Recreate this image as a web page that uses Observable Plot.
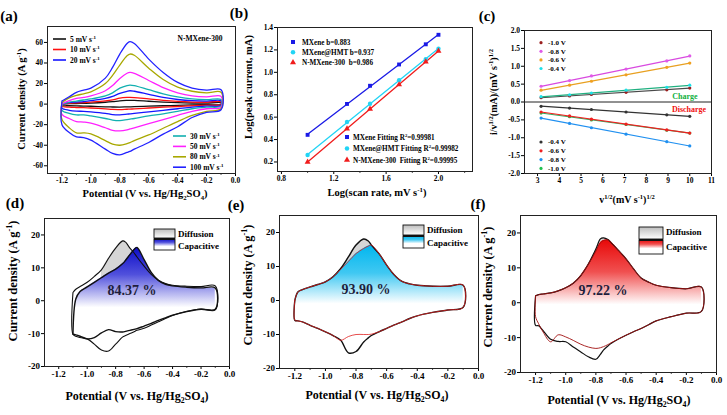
<!DOCTYPE html>
<html><head><meta charset="utf-8">
<script src="https://cdn.jsdelivr.net/npm/d3@7"></script>
<script src="https://cdn.jsdelivr.net/npm/@observablehq/plot@0.6"></script>
<style>
body{margin:0;background:#fff;}
#fig{position:relative;width:727px;height:415px;overflow:hidden;background:#fff;}
</style></head><body><div id="fig"></div>
<script>
// ================= DATA =================
// (a) CV curves of N-MXene-300 at several scan rates
const aPotential = [-1.2, -1.15, -1.1, -1.05, -1.0, -0.9, -0.85, -0.8, -0.75, -0.73, -0.7, -0.6, -0.5, -0.4, -0.3, -0.2, -0.1];
const aRates = ["5", "10", "20", "30", "50", "80", "100"];
const aUp5   = [0, 0.4, 0.6, 0.8, 1.0, 1.8, 2.4, 3.2, 3.6, 3.7, 3.6, 2.8, 2.0, 1.4, 1.1, 1.0, 1.2];
const aLo5   = [-1.2, -1.6, -1.8, -1.9, -2.1, -2.6, -2.8, -2.9, -2.7, -2.65, -2.5, -2.0, -1.6, -1.2, -0.8, -0.5, -0.3];
const aUp10  = [0, 0.8, 1.2, 1.5, 2.0, 3.2, 4.2, 5.8, 6.5, 6.6, 6.4, 5.0, 3.6, 2.6, 2.0, 1.8, 2.2];
const aLo10  = [-2.0, -3.0, -3.3, -3.5, -3.8, -4.7, -5.2, -5.3, -5.0, -4.9, -4.6, -3.8, -3.0, -2.3, -1.6, -1.0, -0.6];
const aUp20  = [0, 1.5, 2.0, 2.5, 3.3, 5.5, 7.5, 10.5, 12.5, 13.0, 12.5, 9.5, 6.5, 4.5, 3.3, 3.0, 3.2];
const aLo20  = [-4.0, -6.0, -6.8, -7.0, -7.5, -9.0, -10.2, -10.5, -9.8, -9.5, -9.0, -7.5, -6.0, -4.5, -3.0, -2.0, -1.3];
const aUp30  = [0, 2.0, 3.0, 4.0, 5.0, 8.0, 11.0, 15.5, 18.0, 18.5, 18.0, 14.0, 10.0, 7.0, 5.0, 4.3, 4.5];
const aLo30  = [-6.0, -9.0, -10.5, -10.5, -11.5, -14.0, -15.5, -16.0, -15.0, -14.6, -14.0, -11.5, -9.5, -7.0, -4.5, -3.0, -2.0];
const aUp50  = [0.5, 3.5, 5.5, 6.5, 8.0, 13.0, 18.0, 25.0, 30.0, 30.8, 30.0, 23.0, 16.0, 11.0, 8.0, 7.0, 7.5];
const aLo50  = [-10.0, -14.0, -17.0, -17.5, -18.5, -23.0, -25.5, -26.0, -25.0, -24.2, -23.0, -19.0, -15.0, -11.0, -7.0, -4.5, -3.0];
const aUp80  = [1.5, 6.0, 8.5, 10.0, 12.0, 20.0, 28.0, 38.0, 47.0, 48.7, 47.5, 35.0, 24.0, 16.5, 12.5, 11.0, 11.5];
const aLo80  = [-15.0, -23.0, -28.0, -28.0, -29.0, -35.5, -39.0, -40.0, -38.5, -37.5, -35.5, -30.0, -23.5, -17.0, -11.0, -7.0, -4.5];
const aUp100 = [3.0, 7.1, 11.4, 13.6, 15.6, 25.3, 35.7, 48.7, 59.0, 60.7, 59.0, 43.8, 30.8, 21.1, 15.6, 13.6, 14.0];
const aLo100 = [-20.1, -27.6, -31.8, -32.5, -35.0, -43.8, -48.0, -49.4, -47.0, -46.0, -43.8, -37.3, -29.2, -22.0, -13.0, -8.1, -5.5];
const aXTicks = [-1.2, -1.0, -0.8, -0.6, -0.4, -0.2, 0.0];
const aYTicks = [-60, -40, -20, 0, 20, 40, 60];

// (b) log(peak current) vs log(scan rate)
const bLogRate = [1.0, 1.301, 1.477, 1.699, 1.903, 2.0];
const bSeries = ["MXene", "MXene@HMT", "N-MXene-300"];
const bMXene = [0.442, 0.718, 0.88, 1.07, 1.25, 1.335];
const bHMT   = [0.262, 0.557, 0.72, 0.93, 1.118, 1.21];
const bNMX   = [0.200, 0.497, 0.673, 0.89, 1.094, 1.19];
const bLegendTop = ["MXene b=0.883", "MXene@HMT b=0.937", "N-MXene-300  b=0.986"];
const bLegendFit = ["MXene Fitting R", "MXene@HMT Fitting R", "N-MXene-300  Fitting R"];
const bR2 = ["=0.99981", "=0.99982", "=0.99995"];
const bXTicks = [0.8, 1.2, 1.6, 2.0];
const bYTicks = [0.2, 0.4, 0.6, 0.8, 1.0, 1.2, 1.4];

// (c) i/v^1/2 vs v^1/2
const cSqrtRate = [3.162, 4.472, 5.477, 7.071, 8.944, 10.0];
const cChargeNames = ["-1.0 V", "-0.8 V", "-0.6 V", "-0.4 V"];
const cCharge10 = [0.12, 0.17, 0.21, 0.27, 0.34, 0.39];
const cCharge08 = [0.44, 0.60, 0.73, 0.92, 1.15, 1.29];
const cCharge06 = [0.33, 0.47, 0.58, 0.76, 0.97, 1.09];
const cCharge04 = [0.15, 0.20, 0.25, 0.33, 0.41, 0.47];
const cDischargeNames = ["-0.4 V", "-0.6 V", "-0.8 V", "-1.0 V"];
const cDis04 = [-0.12, -0.17, -0.21, -0.28, -0.36, -0.40];
const cDis06 = [-0.28, -0.39, -0.48, -0.62, -0.78, -0.87];
const cDis08 = [-0.45, -0.60, -0.72, -0.90, -1.11, -1.23];
const cDis10 = [-0.31, -0.41, -0.50, -0.63, -0.79, -0.87];
const cXTicks = [3, 4, 5, 6, 7, 8, 9, 10, 11];
const cYTicks = [-2.0, -1.5, -1.0, -0.5, 0.0, 0.5, 1.0, 1.5, 2.0];

// (d) MXene: total CV and capacitive contribution
const dPotential = [-1.1, -1.08, -1.05, -1.0, -0.95, -0.9, -0.85, -0.8, -0.75, -0.73, -0.7, -0.67, -0.65, -0.6, -0.55, -0.5, -0.45, -0.4, -0.3, -0.2, -0.1];
const dTotalUp = [2.5, 3.5, 4.3, 5.6, 7.4, 9.4, 12.9, 16.0, 18.2, 17.8, 16.0, 14.5, 13.3, 10.5, 8.0, 6.2, 5.2, 4.7, 4.4, 4.3, 4.5];
const dTotalLo = [-10.2, -10.8, -11.2, -11.6, -13.2, -15.0, -15.3, -13.2, -11.0, -10.6, -10.0, -9.4, -9.0, -8.4, -7.4, -6.4, -5.4, -4.5, -3.2, -2.5, -2.8];
const dCapUp = [-10.2, 0.5, 2.8, 4.2, 5.6, 7.0, 8.4, 9.6, 11.3, 12.3, 14.0, 15.6, 16.2, 12.5, 8.6, 6.2, 5.0, 4.5, 4.1, 3.9, 3.9];
const dCapLo = [-10.2, -10.4, -10.8, -11.6, -11.2, -9.8, -8.8, -9.4, -9.5, -9.3, -9.0, -8.7, -8.5, -7.7, -6.9, -6.0, -5.2, -4.4, -3.3, -2.6, -2.6];
const dPercent = "84.37 %";

// (e) MXene@HMT
const ePotential = [-1.2, -1.18, -1.15, -1.1, -1.05, -1.0, -0.95, -0.9, -0.85, -0.8, -0.75, -0.72, -0.7, -0.65, -0.6, -0.55, -0.5, -0.45, -0.4, -0.3, -0.2, -0.1];
const eTotalUp = [0, 2.5, 3.2, 4.0, 4.7, 5.5, 7.0, 9.4, 12.8, 16.3, 18.1, 17.5, 16.3, 13.8, 10.4, 7.5, 5.6, 4.9, 4.5, 4.2, 4.2, 4.5];
const eTotalLo = [-5.8, -6.0, -6.3, -7.3, -8.2, -9.2, -10.3, -11.7, -15.4, -15.0, -12.2, -11.0, -10.3, -9.2, -8.2, -7.2, -6.3, -5.3, -4.5, -3.5, -2.8, -2.0];
const eCapUp = [0, 2.5, 3.2, 4.0, 4.7, 5.5, 7.0, 9.2, 11.5, 13.8, 15.3, 16.0, 16.3, 13.8, 10.4, 7.5, 5.6, 4.9, 4.5, 4.2, 4.2, 4.5];
const eCapLo = [-5.8, -6.0, -6.3, -7.3, -8.2, -9.2, -10.3, -11.7, -10.6, -10.0, -10.0, -10.0, -9.9, -9.2, -8.2, -7.2, -6.3, -5.3, -4.5, -3.5, -2.8, -2.0];
const ePercent = "93.90 %";

// (f) N-MXene-300
const fPotential = [-1.2, -1.18, -1.15, -1.1, -1.05, -1.0, -0.95, -0.9, -0.85, -0.8, -0.77, -0.75, -0.72, -0.7, -0.65, -0.6, -0.55, -0.5, -0.45, -0.4, -0.3, -0.2, -0.1];
const fTotalUp = [2.0, 2.3, 2.5, 2.8, 3.4, 4.3, 5.6, 7.8, 11.1, 15.4, 18.3, 18.6, 18.1, 17.3, 15.0, 12.6, 9.7, 7.1, 5.9, 5.0, 4.3, 4.0, 4.5];
const fTotalLo = [-6.5, -6.6, -8.0, -10.5, -11.1, -11.2, -12.7, -14.1, -15.5, -16.2, -14.8, -13.6, -12.4, -11.7, -10.4, -9.3, -8.3, -7.4, -6.3, -5.2, -4.0, -3.0, -2.5];
const fCapUp = [2.0, 2.3, 2.5, 2.8, 3.4, 4.3, 5.6, 7.8, 11.0, 14.8, 17.2, 17.8, 18.0, 17.4, 15.0, 12.6, 9.7, 7.1, 5.9, 5.0, 4.3, 4.0, 4.5];
const fCapLo = [-4.0, -6.0, -8.4, -11.2, -9.2, -9.8, -10.8, -11.9, -12.7, -13.1, -12.9, -12.6, -12.0, -11.5, -10.4, -9.3, -8.3, -7.4, -6.3, -5.2, -4.0, -3.0, -2.5];
const fPercent = "97.22 %";

const cvXTicks = [-1.2, -1.0, -0.8, -0.6, -0.4, -0.2, 0.0];
const cvYTicks = [-20, -10, 0, 10, 20];
const cvMinor = [-1.1, -0.9, -0.7, -0.5, -0.3, -0.1];

// ================= HELPERS =================
const W = 727, H = 415;
const fig = document.getElementById("fig");
const SERIF = "'Liberation Serif', 'Times New Roman', serif";
const f1 = d => d.toFixed(1), f0 = d => String(d);
function box(x0, y0, x1, y1) { return {width: W, height: H, marginLeft: x0, marginTop: y0, marginRight: W - x1, marginBottom: H - y1}; }
function st(fs) { return {background: "transparent", fontFamily: SERIF, fontSize: fs + "px", fontWeight: "bold", color: "#000", overflow: "visible"}; }
function ax(domain, ticks, fmt) { return {domain, ticks, tickFormat: fmt, tickSize: 3, tickPadding: 1.5, label: null}; }
function minorX(vals, fh) { return Plot.ruleX(vals, {insetTop: fh, insetBottom: -2, stroke: "#222", strokeWidth: 0.8}); }
function add(svg) { svg.style.position = "absolute"; svg.style.left = "0px"; svg.style.top = "0px"; fig.appendChild(svg); return d3.select(svg); }
function rich(sel, x, y, parts, o = {}) {
  const size = o.size || 11;
  const t = sel.append("text").attr("x", x).attr("y", y)
    .attr("font-family", SERIF).attr("font-weight", "bold")
    .attr("font-size", size).attr("text-anchor", o.anchor || "middle").attr("fill", o.fill || "#000");
  if (o.rotate) t.attr("transform", `rotate(${o.rotate} ${x} ${y})`);
  let cur = 0;
  for (const p of parts) {
    const [s, k] = typeof p === "string" ? [p, ""] : p;
    const shift = k === "sup" ? -0.38 * size : k === "sub" ? 0.25 * size : 0;
    t.append("tspan").attr("dy", shift - cur).attr("font-size", k ? size * 0.65 : size).text(s);
    cur = shift;
  }
  return t;
}
function grad(sel, id, stops) {
  let defs = sel.select("defs");
  if (defs.empty()) defs = sel.insert("defs", ":first-child");
  const g = defs.append("linearGradient").attr("id", id).attr("x1", 0).attr("y1", 0).attr("x2", 0).attr("y2", 1);
  stops.forEach(([o, c]) => g.append("stop").attr("offset", o).attr("stop-color", c));
}
function loopRows(xs, up, lo, key) {
  const rows = [];
  xs.forEach((x, i) => rows.push({k: key, x, y: up[i]}));
  for (let i = xs.length - 1; i >= 0; i--) rows.push({k: key, x: xs[i], y: lo[i]});
  rows.push({k: key, x: xs[0], y: up[0]});
  return rows;
}
function letter(sel, x, y, s) { sel.append("text").attr("x", x).attr("y", y).attr("font-family", SERIF).attr("font-weight", "bold").attr("font-size", 15).text(s); }
const potLabel = ["Potential (V vs. Hg/Hg", ["2", "sub"], "SO", ["4", "sub"], ")"];
const cdLabel = ["Current density (A g", ["-1", "sup"], ")"];

// ================= (a) =================
{
  const ups = [aUp5, aUp10, aUp20, aUp30, aUp50, aUp80, aUp100];
  const los = [aLo5, aLo10, aLo20, aLo30, aLo50, aLo80, aLo100];
  const aColors = ["#111111", "#ff1010", "#1515ff", "#12b0b0", "#ff20ff", "#a8a800", "#2222ff"];
  const rows = aRates.flatMap((r, k) => loopRows(aPotential, ups[k], los[k], r));
  const p = Plot.plot({
    ...box(47, 26, 235, 173), style: st(7.5),
    x: ax([-1.3, 0], aXTicks, f1), y: ax([-67.5, 75.5], aYTicks, f0),
    color: {domain: aRates, range: aColors},
    marks: [
      Plot.line(rows, {x: "x", y: "y", z: "k", stroke: "k", strokeWidth: 1.3, curve: "catmull-rom"}),
      minorX(cvMinor, 147),
      Plot.frame({stroke: "#222"})
    ]
  });
  const A = add(p);
  aRates.forEach((r, k) => {
    const top = k < 3;
    const y = top ? 39 + k * 10.5 : 136 + (k - 3) * 10.4;
    const x = top ? 53 : 173;
    A.append("line").attr("x1", x).attr("x2", x + 13).attr("y1", y).attr("y2", y).attr("stroke", aColors[k]).attr("stroke-width", 1.6);
    rich(A, x + 17, y + 2.6, [r + " mV s", ["-1", "sup"]], {size: 7.5, anchor: "start"});
  });
  rich(A, 200, 41, ["N-MXene-300"], {size: 7.5});
  rich(A, 145, 197, potLabel, {size: 10.5});
  rich(A, 25, 99, cdLabel, {size: 10.5, rotate: -90});
  letter(A, 9, 21, "(a)");
}

// ================= (b) =================
{
  const bColors = ["#1a1ae6", "#22d4f5", "#f01c1c"];
  const vals = [bMXene, bHMT, bNMX];
  const rows = bSeries.flatMap((s, k) => bLogRate.map((x, i) => ({s, x, y: vals[k][i]})));
  const p = Plot.plot({
    ...box(277, 27, 472, 171), style: st(7.5),
    x: ax([0.77, 2.26], bXTicks, f1), y: ax([0.115, 1.4], bYTicks, f1),
    color: {domain: bSeries, range: bColors},
    symbol: {domain: bSeries, range: ["square", "circle", "triangle"]},
    marks: [
      Plot.linearRegressionY(rows, {x: "x", y: "y", stroke: "s", ci: 0, strokeWidth: 1.3}),
      Plot.dot(rows, {x: "x", y: "y", fill: "s", symbol: "s", r: 2.2}),
      minorX([1.0, 1.4, 1.8, 2.2], 144),
      Plot.frame({stroke: "#222"})
    ]
  });
  const B = add(p);
  const syms = [d3.symbolSquare, d3.symbolCircle, d3.symbolTriangle];
  bSeries.forEach((s, k) => {
    const y = 42 + k * 10.2;
    B.append("path").attr("transform", `translate(293,${y})`).attr("d", d3.symbol(syms[k], 16)()).attr("fill", bColors[k]);
    rich(B, 302, y + 2.6, [bLegendTop[k]], {size: 7.2, anchor: "start"});
    const y2 = 137 + k * 11.5;
    B.append("path").attr("transform", `translate(347,${y2})`).attr("d", d3.symbol(syms[k], 16)()).attr("fill", bColors[k]);
    rich(B, 353, y2 + 2.6, [bLegendFit[k], ["2", "sup"], bR2[k]], {size: 7.2, anchor: "start"});
  });
  rich(B, 377, 196, ["Log(scan rate, mV s", ["-1", "sup"], ")"], {size: 10.5});
  rich(B, 252, 87, ["Log(peak current, mA)"], {size: 10.5, rotate: -90});
  letter(B, 239, 18, "(b)");
}

// ================= (c) =================
{
  const series = [
    {n: "c10", v: cCharge10, dot: "#9b2020", line: "#4a4a4a"},
    {n: "c08", v: cCharge08, dot: "#e05ae8", line: "#d84ae0"},
    {n: "c06", v: cCharge06, dot: "#f0a020", line: "#e8a020"},
    {n: "c04", v: cCharge04, dot: "#1ee0e8", line: "#20b080"},
    {n: "d04", v: cDis04, dot: "#333333", line: "#333333"},
    {n: "d10", v: cDis10, dot: "#20c050", line: "#30b060"},
    {n: "d06", v: cDis06, dot: "#f02020", line: "#f02020"},
    {n: "d08", v: cDis08, dot: "#2090f0", line: "#2090f0"}
  ];
  const marks = [Plot.ruleY([0], {stroke: "#222", strokeWidth: 1})];
  for (const s of series) {
    const rows = cSqrtRate.map((x, i) => ({x, y: s.v[i]}));
    marks.push(Plot.linearRegressionY(rows, {x: "x", y: "y", stroke: s.line, ci: 0, strokeWidth: 1.2}));
    marks.push(Plot.dot(rows, {x: "x", y: "y", fill: s.dot, r: 1.6}));
  }
  marks.push(Plot.frame({stroke: "#222"}));
  const p = Plot.plot({
    ...box(524, 30, 711, 173), style: st(7.5),
    x: ax([2.4, 11], cXTicks, f0), y: ax([-2, 2], cYTicks, f1),
    marks
  });
  const C = add(p);
  const topCols = ["#9b2020", "#e05ae8", "#f0a020", "#1ee0e8"];
  const botCols = ["#333333", "#f02020", "#2090f0", "#20c050"];
  cChargeNames.forEach((n, k) => {
    const y = 42.7 + k * 8.6;
    C.append("circle").attr("cx", 541).attr("cy", y).attr("r", 1.6).attr("fill", topCols[k]);
    rich(C, 548, y + 2.4, [n], {size: 7, anchor: "start"});
  });
  cDischargeNames.forEach((n, k) => {
    const y = 142 + k * 8.8;
    C.append("circle").attr("cx", 541).attr("cy", y).attr("r", 1.6).attr("fill", botCols[k]);
    rich(C, 548, y + 2.4, [n], {size: 7, anchor: "start"});
  });
  rich(C, 685, 99, ["Charge"], {size: 8, fill: "#10b040"});
  rich(C, 689, 112, ["Discharge"], {size: 8, fill: "#f01010"});
  rich(C, 627, 203, ["v", ["1/2", "sup"], "(mV s", ["-1", "sup"], ")", ["1/2", "sup"]], {size: 10});
  rich(C, 497, 92, ["i/v", ["1/2", "sup"], "(mA)/(mV s", ["-1", "sup"], ")", ["1/2", "sup"]], {size: 10, rotate: -90});
  letter(C, 487, 21, "(c)");
}

// ================= (d)(e)(f) =================
function cvPanel(cfg) {
  const rows = cfg.xs.map((x, i) => ({x, totUp: cfg.tu[i], totLo: cfg.tl[i], capUp: cfg.cu[i], capLo: cfg.cl[i]}));
  const diff = rows.filter(d => d.x >= cfg.diffRange[0] && d.x <= cfg.diffRange[1]);
  const fh = cfg.frame[3] - cfg.frame[1];
  const p = Plot.plot({
    ...box(...cfg.frame), style: st(9),
    x: ax([-1.3, 0], cvXTicks, f1), y: ax([-20, 25], cvYTicks, f0),
    marks: [
      Plot.areaY(diff, {x: "x", y1: "capUp", y2: "totUp", fill: "#d6d6d6", curve: "catmull-rom"}),
      Plot.areaY(rows, {x: "x", y1: "capLo", y2: "capUp", fill: `url(#${cfg.id})`, curve: "catmull-rom"}),
      Plot.line(loopRows(cfg.xs, cfg.tu, cfg.tl, "t"), {x: "x", y: "y", stroke: "#111", strokeWidth: cfg.totW, curve: "catmull-rom"}),
      Plot.line(loopRows(cfg.xs, cfg.cu, cfg.cl, "c"), {x: "x", y: "y", stroke: cfg.capStroke, strokeWidth: cfg.capW, curve: "catmull-rom"}),
      minorX(cvMinor, fh),
      Plot.frame({stroke: "#222"})
    ]
  });
  const S = add(p);
  grad(S, cfg.id, cfg.stops);
  grad(S, cfg.id + "g", [[0, "#bdbdbd"], [1, "#ffffff"]]);
  const [lx, ly1, ly2, lw] = cfg.legend;
  S.append("rect").attr("x", lx).attr("y", ly1).attr("width", lw).attr("height", ly2 - ly1 - 1).attr("fill", `url(#${cfg.id}g)`).attr("stroke", "#111").attr("stroke-width", 0.9);
  S.append("rect").attr("x", lx).attr("y", ly2).attr("width", lw).attr("height", ly2 - ly1 + 1).attr("fill", `url(#${cfg.id})`).attr("stroke", "#111").attr("stroke-width", 0.9);
  S.append("line").attr("x1", lx).attr("x2", lx + lw).attr("y1", ly2).attr("y2", ly2).attr("stroke", "#111").attr("stroke-width", 2);
  rich(S, lx + lw + 3, ly1 + 8, ["Diffusion"], {size: 9, anchor: "start"});
  rich(S, lx + lw + 3, ly2 + 9.5, ["Capacitive"], {size: 9, anchor: "start"});
  rich(S, cfg.pct[0], cfg.pct[1], [cfg.pctText], {size: 14, fill: "#1e1e3c"});
  rich(S, cfg.xl[0], cfg.xl[1], potLabel, {size: 12});
  rich(S, cfg.yl[0], cfg.yl[1], cdLabel, {size: 12.5, rotate: -90});
  letter(S, cfg.letter[0], cfg.letter[1], cfg.letterText);
}
cvPanel({xs: dPotential, tu: dTotalUp, tl: dTotalLo, cu: dCapUp, cl: dCapLo, frame: [44, 218, 229, 366],
  id: "gradD", stops: [[0, "#0c0cc8"], [0.3, "#5050dc"], [0.66, "#ffffff"]], diffRange: [-0.9, -0.6],
  capStroke: "#111", capW: 1.4, totW: 1.1, legend: [154, 229, 239, 21], pct: [132, 295], pctText: dPercent,
  xl: [137, 400], yl: [17, 281], letter: [15, 208], letterText: "(d)"});
cvPanel({xs: ePotential, tu: eTotalUp, tl: eTotalLo, cu: eCapUp, cl: eCapLo, frame: [279, 215, 478, 368],
  id: "gradE", stops: [[0, "#00b6ee"], [0.3, "#40c8f2"], [0.62, "#ffffff"]], diffRange: [-0.9, -0.68],
  capStroke: "#e02020", capW: 0.8, totW: 1.4, legend: [403, 225, 236, 21], pct: [366, 294], pctText: ePercent,
  xl: [377, 399], yl: [252, 285], letter: [236, 210], letterText: "(e)"});
cvPanel({xs: fPotential, tu: fTotalUp, tl: fTotalLo, cu: fCapUp, cl: fCapLo, frame: [520, 215, 716, 372],
  id: "gradF", stops: [[0, "#e80808"], [0.3, "#f05050"], [0.6, "#ffffff"]], diffRange: [-0.85, -0.68],
  capStroke: "#a01010", capW: 0.9, totW: 1.2, legend: [639, 227, 240, 24], pct: [603, 295], pctText: fPercent,
  xl: [619, 404], yl: [492, 287], letter: [478, 209], letterText: "(f)"});
</script></body></html>
